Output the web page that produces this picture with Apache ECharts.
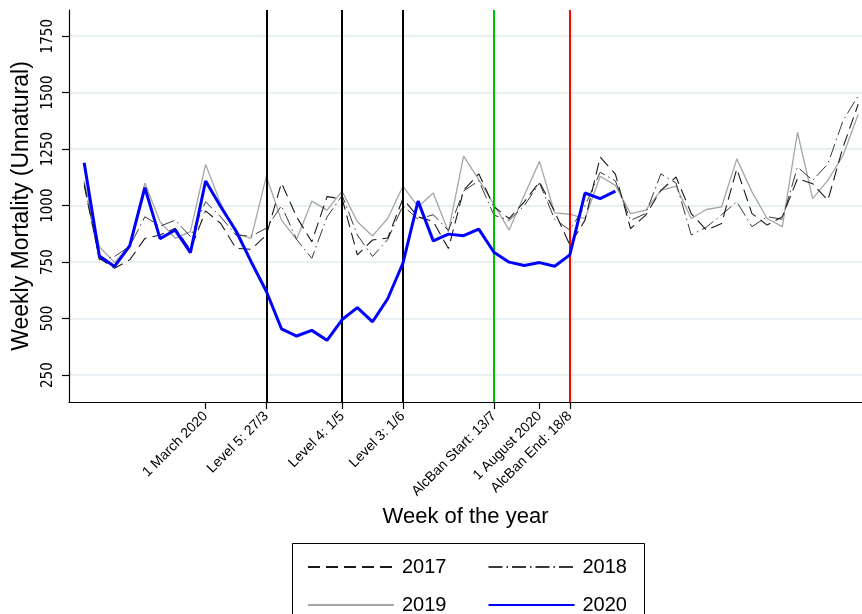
<!DOCTYPE html>
<html><head><meta charset="utf-8">
<script src="https://cdn.jsdelivr.net/npm/echarts@6/dist/echarts.min.js"></script>
<style>html,body{margin:0;padding:0;background:#fff}#c{width:862px;height:614px}</style>
</head><body><div id="c"></div>
<script>
const weeks = [1,2,3,4,5,6,7,8,9,10,11,12,13,14,15,16,17,18,19,20,21,22,23,24,25,26,27,28,29,30,31,32,33,34,35,36,37,38,39,40,41,42,43,44,45,46,47,48,49,50,51,52];
const y2017 = [1090,767,723,760,855,870,900,805,977,921,811,807,870,1100,950,840,1040,1030,782,848,857,1031,950,930,810,1068,1141,995,943,1017,1105,973,826,936,1215,1140,899,958,1068,1127,965,892,921,1163,965,914,951,1120,1097,1024,1259,1449];
const y2018 = [1100,760,775,820,951,909,936,863,1017,950,870,865,900,1000,850,767,950,1045,870,775,850,1000,940,960,890,1065,1110,958,935,1000,1100,940,892,1000,1148,1110,935,965,1141,1100,870,905,960,1017,907,951,940,1171,1112,1185,1376,1486];
const y2019 = [1110,818,748,826,1100,929,855,885,1182,1009,877,855,1130,936,851,1020,980,1064,929,866,943,1086,995,1056,885,1219,1115,1005,892,1046,1196,968,962,943,1130,1090,965,980,1068,1086,943,983,995,1207,1061,943,907,1325,1031,1112,1222,1405];
const y2020 = [1190,777,731,822,1080,854,892,792,1109,995,889,752,621,455,423,448,404,496,549,486,588,745,1020,844,874,867,896,794,750,735,748,732,782,1056,1031,1064];
const tickWeeks = [9,13,18,22,28,31,33];
const tickLabels = ['1 March 2020','Level 5: 27/3','Level 4: 1/5','Level 3: 1/6','AlcBan Start: 13/7','1 August 2020','AlcBan End: 18/8'];
const eventWeeks = [13,18,22,28,33];
const eventColors = ['#000000','#000000','#000000','#00c000','#ff0000'];
const yTicks = [250,500,750,1000,1250,1500,1750];

const pair = arr => arr.map((v,i) => [weeks[i], v]);
const font = 'Liberation Sans, Arial, sans-serif';
const narrow = 'Liberation Sans Narrow, DejaVu Sans Condensed, Liberation Sans, Arial, sans-serif';

const chart = echarts.init(document.getElementById('c'), null, {renderer:'canvas'});
const legendBase = {itemWidth: 86, itemHeight: 24, itemGap: 41,
  itemStyle: {opacity: 0, borderWidth: 0},
  textStyle: {fontSize: 20, color: '#000', padding: [0,0,0,3], fontFamily: font}};
chart.setOption({
  animation: false,
  backgroundColor: '#fff',
  textStyle: {fontFamily: font},
  grid: {left: 69, right: 0, top: 10, bottom: 212, containLabel: false},
  xAxis: {
    type: 'value', min: 0, max: 52.25,
    axisLine: {lineStyle: {color: '#000', width: 1.2}},
    axisTick: {show: true, customValues: tickWeeks, length: 7, lineStyle: {color: '#000', width: 1.2}},
    axisLabel: {customValues: tickWeeks, rotate: 45, fontSize: 14, color: '#000', margin: 12, fontFamily: font,
      formatter: v => { const i = tickWeeks.indexOf(v); return i >= 0 ? tickLabels[i] : ''; }},
    splitLine: {show: false},
    name: 'Week of the year', nameLocation: 'middle', nameGap: 104,
    nameTextStyle: {fontSize: 22, color: '#000', fontFamily: font}
  },
  yAxis: {
    type: 'value', min: 131, max: 1866,
    axisLine: {show: true, lineStyle: {color: '#000', width: 1.2}},
    axisTick: {show: true, customValues: yTicks, length: 7, lineStyle: {color: '#000', width: 1.2}},
    axisLabel: {customValues: yTicks, rotate: 90, fontSize: 15, color: '#000', margin: 13, fontFamily: narrow,
      formatter: v => String(v)},
    splitLine: {show: true, lineStyle: {color: '#e9f0f3', width: 2}},
    name: 'Weekly Mortality (Unnatural)', nameLocation: 'middle', nameGap: 32, nameRotate: 90,
    nameTextStyle: {fontSize: 23, color: '#000', fontFamily: font}
  },
  legend: [
    Object.assign({data: ['2017','2018'], left: 302, top: 552}, legendBase),
    Object.assign({data: ['2019','2020'], left: 302, top: 590}, legendBase)
  ],
  graphic: [{type: 'rect', shape: {x: 292.5, y: 543.5, width: 352, height: 90},
    style: {fill: 'none', stroke: '#000', lineWidth: 1}, silent: true}],
  series: [
    {name: 'events', type: 'line', data: [], z: 1,
     markLine: {silent: true, symbol: ['none','none'], label: {show: false},
       data: eventWeeks.map((w,i) => ({xAxis: w, lineStyle: {color: eventColors[i], width: 2, type: 'solid'}}))}},
    {name: '2019', type: 'line', data: pair(y2019), symbol: 'none', z: 2,
     lineStyle: {color: '#a6a6a6', width: 1.3}, itemStyle: {color: '#a6a6a6'}},
    {name: '2018', type: 'line', data: pair(y2018), symbol: 'none', z: 3,
     lineStyle: {color: '#3a3a3a', width: 1, type: [14,4,1.5,4]}, itemStyle: {color: '#3a3a3a'}},
    {name: '2017', type: 'line', data: pair(y2017), symbol: 'none', z: 4,
     lineStyle: {color: '#1a1a1a', width: 1.1, type: [12,6]}, itemStyle: {color: '#1a1a1a'}},
    {name: '2020', type: 'line', data: pair(y2020), symbol: 'none', z: 5,
     lineStyle: {color: '#0000ff', width: 3}, itemStyle: {color: '#0000ff'}}
  ]
});
</script></body></html>
